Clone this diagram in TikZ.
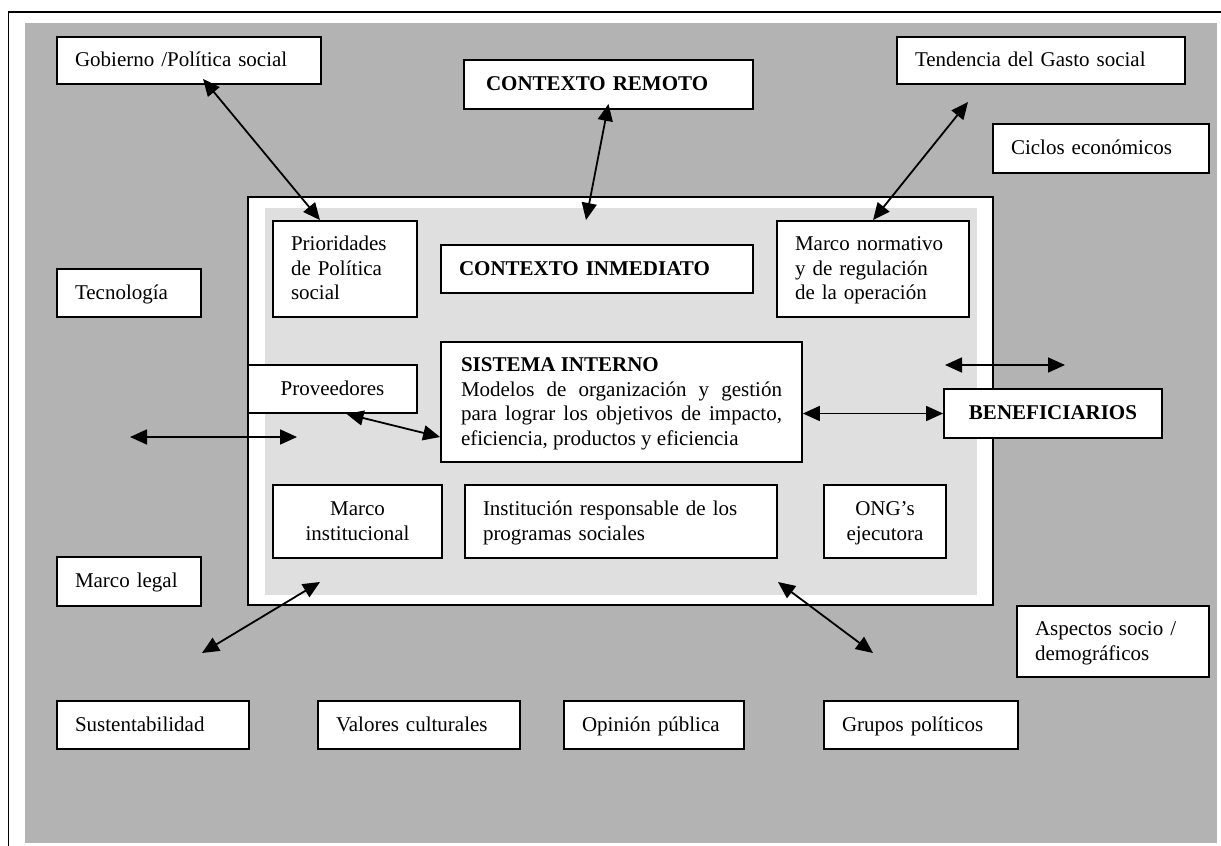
\documentclass[tikz,border=0pt]{standalone}
\usepackage{fontspec}
\setmainfont{Liberation Serif}
\usetikzlibrary{arrows.meta}
\definecolor{fondo}{RGB}{179,179,179}
\definecolor{interior}{RGB}{223,223,223}
\hyphenpenalty=10000

\begin{document}
\begin{tikzpicture}[
    x=0.5pt, y=-0.5pt,
    caja/.style={draw, fill=white, line width=0.9pt, inner xsep=9pt,
                 inner ysep=2pt, align=left,
                 font=\fontsize{10.5}{12.25}\selectfont,
                 execute at begin node={\rule{0pt}{9pt}},
                 execute at end node={\rule[-2.6pt]{0pt}{2.6pt}}},
    flecha/.style={{Triangle[length=8.5pt,width=7.5pt]}-{Triangle[length=8.5pt,width=7.5pt]},
                   line width=0.9pt},
]
\useasboundingbox (0,0) rectangle (1221,846);

% Fondo y borde exterior
\fill[fondo] (25,23) rectangle (1217,843);
\draw[line width=0.9pt] (1221,12) -- (8.5,12) -- (8.5,846);

% Contexto inmediato
\draw[fill=white, line width=0.9pt] (248,197) rectangle (993,605);
\fill[interior] (265,208) rectangle (977,595);

% Contexto remoto
\node[caja, minimum width=132pt, minimum height=23.5pt, text width=114pt] (gobierno) at (189,60.5) {Gobierno /Política social};
\node[caja, minimum width=144.5pt, minimum height=24.5pt, text width=122.5pt, inner xsep=11pt] (remoto) at (608.5,84.5) {\textbf{CONTEXTO REMOTO}};
\node[caja, minimum width=144pt, minimum height=23.5pt, text width=126pt] (tendencia) at (1041,60.5) {Tendencia del Gasto social};
\node[caja, minimum width=108pt, minimum height=24.5pt, text width=90pt] (ciclos) at (1101,148.5) {Ciclos económicos};
\node[caja, minimum width=72pt, minimum height=24pt, text width=54pt] (tecnologia) at (129,293) {Tecnología};
\node[caja, minimum width=72pt, minimum height=24.5pt, text width=54pt] (legal) at (129,581.5) {Marco legal};
\node[caja, minimum width=96pt, minimum height=35.5pt, text width=78pt] (aspectos) at (1113,641.5) {Aspectos socio /\\demográficos};
\node[caja, minimum width=96pt, minimum height=24pt, text width=78pt] (sustentabilidad) at (153,725) {Sustentabilidad};
\node[caja, minimum width=101pt, minimum height=24pt, text width=83pt] (valores) at (419,725) {Valores culturales};
\node[caja, minimum width=90pt, minimum height=24pt, text width=72pt] (opinion) at (654,725) {Opinión pública};
\node[caja, minimum width=97pt, minimum height=24pt, text width=79pt] (grupos) at (921,725) {Grupos políticos};

% Dentro del marco
\node[caja, minimum width=72pt, minimum height=48pt, text width=54pt] (prioridades) at (345,269) {Prioridades\\de Política\\social};
\node[caja, minimum width=156pt, minimum height=24pt, text width=138pt] (inmediato) at (597,269) {\textbf{CONTEXTO INMEDIATO}};
\node[caja, minimum width=96pt, minimum height=48pt, text width=78pt] (normativo) at (873,269) {Marco normativo\\y de regulación\\de la operación};
\node[caja, minimum width=84.5pt, minimum height=24pt, text width=66.5pt, align=center] (proveedores) at (332.5,389) {Proveedores};
\node[caja, minimum width=180.5pt, minimum height=60pt, text width=160.5pt, inner xsep=10pt, align=justify] (sistema) at (621.5,402) {\textbf{SISTEMA INTERNO}\\Modelos de organización y gestión para lograr los objetivos de impacto, eficiencia, productos y eficiencia};
\node[caja, minimum width=109pt, minimum height=24.5pt, text width=91pt, align=center] (benef) at (1053,413.5) {\textbf{BENEFICIARIOS}};
\node[caja, minimum width=84.5pt, minimum height=36.5pt, text width=66.5pt, align=center] (institucional) at (357.5,521.5) {Marco\\institucional};
\node[caja, minimum width=156pt, minimum height=36.5pt, text width=138pt] (institucion) at (621,521.5) {Institución responsable de los\\programas sociales};
\node[caja, minimum width=61pt, minimum height=36.5pt, text width=43pt, align=center] (ong) at (885,521.5) {ONG’s\\ejecutora};

% Extremos libres de las flechas
\coordinate (remoto-fin) at (586,220);
\coordinate (tendencia-fin) at (968,102);
\coordinate (izq-a) at (130,437);
\coordinate (izq-b) at (297,437);
\coordinate (der-a) at (945,365);
\coordinate (der-b) at (1065,365);
\coordinate (legal-a) at (202,653);
\coordinate (legal-b) at (320,582);
\coordinate (grupos-a) at (778,582);
\coordinate (grupos-b) at (873,653);

% Flechas
\draw[flecha] ([xshift=7pt, yshift=3pt]gobierno.south) -- ([xshift=-12.5pt]prioridades.north);
\draw[flecha] ([yshift=3pt]remoto.south) -- (remoto-fin);
\draw[flecha] (tendencia-fin) -- (normativo.north);
\draw[flecha] ([xshift=7pt]proveedores.south) -- ([yshift=-17.5pt]sistema.west);
\draw[flecha] (sistema.east |- benef.west) -- (benef.west);
\draw[flecha] (izq-a) -- (izq-b);
\draw[flecha] (der-a) -- (der-b);
\draw[flecha] (legal-a) -- (legal-b);
\draw[flecha] (grupos-a) -- (grupos-b);

\end{tikzpicture}
\end{document}
